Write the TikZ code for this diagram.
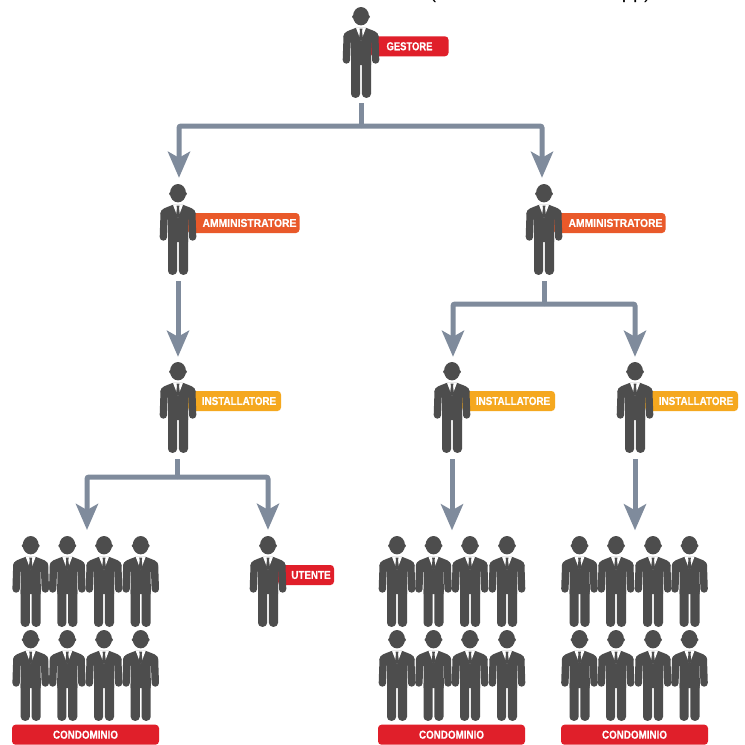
\documentclass[tikz,border=0pt]{standalone}
\usepackage{fontspec}
\setmainfont{Liberation Sans}
\newfontfamily\labfont{Liberation Sans}[BoldFeatures={FakeStretch=0.855,FakeBold=0.35}]
\newfontfamily\labnarrow{Liberation Sans}[BoldFeatures={FakeStretch=0.82,FakeBold=0.35}]
\newfontfamily\labwide{Liberation Sans}[BoldFeatures={FakeStretch=0.9,FakeBold=0.35}]
\usetikzlibrary{arrows.meta}
\definecolor{suit}{HTML}{4D4D4D}
\definecolor{linkc}{HTML}{7F8B9C}
\definecolor{redl}{HTML}{E01F2A}
\definecolor{orl}{HTML}{E9592A}
\definecolor{yel}{HTML}{F5A81F}
\tikzset{
  conn/.style={draw=linkc,line width=5pt,rounded corners=2pt},
  arr/.style={conn,-{Stealth[length=26pt,width=22pt,inset=6pt]}},
  lab/.style={fill=#1,text=white,font=\labfont\bfseries\fontsize{11.5}{12}\selectfont,rounded corners=3.5pt,minimum height=20pt,inner sep=0pt,anchor=center},
  labn/.style={lab=#1,font=\labnarrow\bfseries\fontsize{11.5}{12}\selectfont},
  labw/.style={lab=#1,font=\labwide\bfseries\fontsize{11.5}{12}\selectfont},
  who/.style={minimum width=37pt,minimum height=91pt,inner sep=0pt},
  crowd/.style={minimum width=147pt,minimum height=185pt,inner sep=0pt},
  figure/.pic={
    \fill[suit] (0,9.2) ellipse[x radius=8pt,y radius=9.2pt];
    \fill[suit] (0,9.8) ellipse[x radius=9pt,y radius=3.2pt];
    \fill[suit] (-5,20.8) .. controls (-9,22.4) and (-12,23.4) .. (-14,24.4) .. controls (-16.4,25.4) and (-17.4,27.5) .. (-17.5,30) -- (-10,36) -- (-10,58) -- (10,58) -- (10,36) -- (17.5,30) .. controls (17.4,27.5) and (16.4,25.4) .. (14,24.4) .. controls (12,23.4) and (9,22.4) .. (5,20.8) -- cycle;
    \draw[suit,line width=7.4pt,line cap=round] (-13.8,29) -- (-14.6,53);
    \draw[suit,line width=7.4pt,line cap=round] (13.8,29) -- (14.6,53);
    \fill[suit,rounded corners=4pt] (-10,50) -- (-10,90.8) -- (-0.9,90.8) -- (-0.9,50) -- cycle;
    \fill[suit,rounded corners=4pt] (10,50) -- (10,90.8) -- (0.9,90.8) -- (0.9,50) -- cycle;
    \fill[suit] (-10,48) rectangle (-0.9,56);
    \fill[suit] (10,48) rectangle (0.9,56);
    \fill[white] (-5,20.8) -- (5,20.8) -- (0,34) -- cycle;
    \fill[suit] (-1.5,21.5) -- (1.5,21.5) -- (1,24) -- (1.9,31) -- (0,34.5) -- (-1.9,31) -- (-1,24) -- cycle;
  }
}
\newcommand{\person}[3]{\pic at (#2,#3) {figure};\node[who] (#1) at (#2,#3+45.5) {};}
\newcommand{\band}[3]{% columns given in #1..., top row #2 and bottom row
  \foreach \cx in {#1}{\pic at (\cx,#2) {figure};\pic at (\cx,#3) {figure};}}
\begin{document}
\begin{tikzpicture}[x=1pt,y=-1pt]
\useasboundingbox (0,0) rectangle (745,745);
\fill[white] (0,0) rectangle (745,745);
\begin{scope}
\clip (0,0) rectangle (745,745);
\node[anchor=base,font=\fontsize{20}{24}\selectfont,inner sep=0pt] (topa) at (433,-1.2) {(};
\node[anchor=base east,font=\fontsize{20}{24}\selectfont,inner sep=0pt] (topb) at (651,-1.2) {pp)};
\end{scope}

% labels behind the figures
\node[labn=redl,minimum width=78pt] (lg) at (409.5,46.3) {GESTORE};
\node[labw=orl,minimum width=112pt] (la1) at (243.5,223) {\hspace*{12pt}AMMINISTRATORE};
\node[labw=orl,minimum width=112pt] (la2) at (609.5,223) {\hspace*{12pt}AMMINISTRATORE};
\node[lab=yel,minimum width=93pt] (li1) at (234.5,401) {\hspace*{9pt}INSTALLATORE};
\node[lab=yel,minimum width=93pt] (li2) at (508.5,401) {\hspace*{9pt}INSTALLATORE};
\node[lab=yel,minimum width=93pt] (li3) at (691.5,401) {\hspace*{9pt}INSTALLATORE};
\node[lab=redl,minimum width=56pt] (lu) at (306,575) {\hspace*{10pt}UTENTE};

% figures
\person{g}{361}{7}
\person{a1}{178}{184}
\person{a2}{544}{184}
\person{i1}{178}{362}
\person{i2}{452}{362}
\person{i3}{635}{362}
\person{u}{268}{536}
\band{30.7,67.3,104,140.7}{536}{630}
\band{397,433.5,470,507}{536}{630}
\band{579.5,616,653,689.5}{536}{630}
\node[crowd] (c1) at (85.7,628) {};
\node[crowd] (c2) at (452,628) {};
\node[crowd] (c3) at (635,628) {};

% bottom bars
\node[lab=redl,minimum width=147pt] (lc1) at (85.5,734.7) {CONDOMINIO};
\node[lab=redl,minimum width=147pt] (lc2) at (451.5,734.7) {CONDOMINIO};
\node[lab=redl,minimum width=147pt] (lc3) at (634.5,734.7) {CONDOMINIO};

% connectors
\coordinate (jg) at (361,126);
\coordinate (ja) at (544,304);
\coordinate (ji) at (177,477);
\coordinate (tl) at (87,530);
\draw[conn] ([yshift=-5pt]g.south) -- (jg);
\draw[arr] (jg) -| ([xshift=1pt,yshift=6pt]a1.north);
\draw[arr] (jg) -| ([xshift=-2pt,yshift=6pt]a2.north);
\draw[arr] ([yshift=-6pt]a1.south) -- ([yshift=5pt]i1.north);
\draw[conn] ([yshift=-6pt]a2.south) -- (ja);
\draw[arr] (ja) -| ([xshift=1pt,yshift=5pt]i2.north);
\draw[arr] (ja) -| ([yshift=5pt]i3.north);
\draw[conn] ([xshift=-1pt,yshift=-6pt]i1.south) -- (ji);
\draw[arr] (ji) -| (tl);
\draw[arr] (ji) -| ([yshift=6pt]u.north);
\draw[arr] ([yshift=-6pt]i2.south) -- ([yshift=5pt]c2.north);
\draw[arr] ([yshift=-6pt]i3.south) -- ([yshift=5pt]c3.north);
\end{tikzpicture}
\end{document}
